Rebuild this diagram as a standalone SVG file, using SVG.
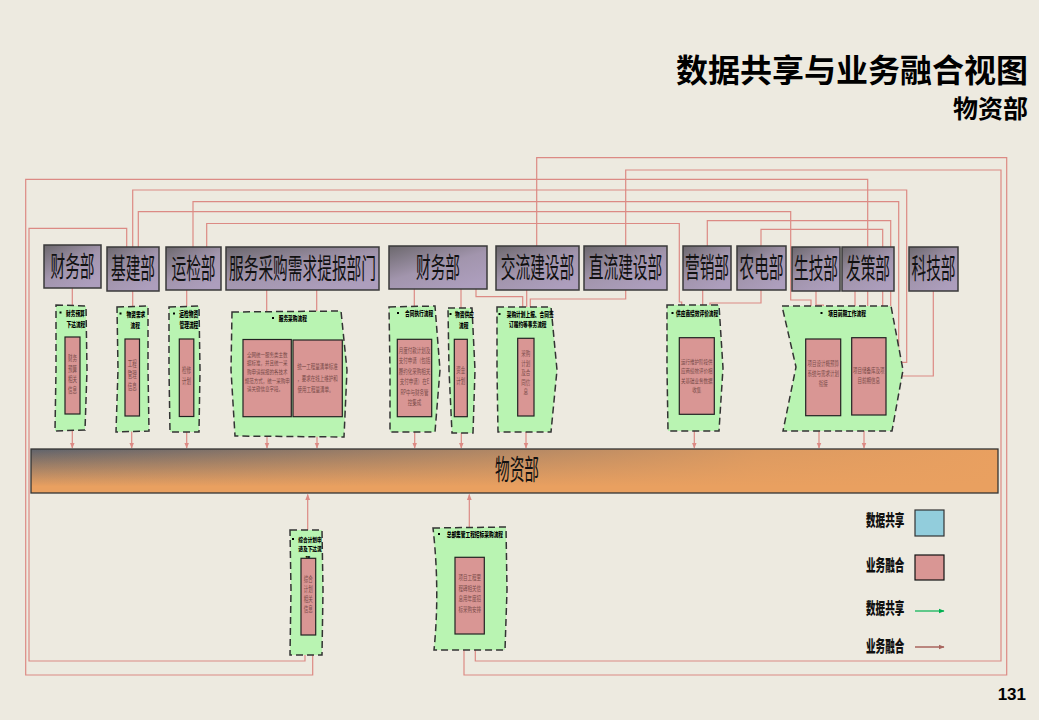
<svg xmlns="http://www.w3.org/2000/svg" width="1039" height="720" viewBox="0 0 1039 720">
<style>
.bg{fill:#EDEAE0}
.node rect{fill:url(#ng);stroke:#3a3a3a;stroke-width:1.5}
.nt{font-family:"Noto Sans CJK SC","Noto Sans",sans-serif;font-size:14.7px;fill:#111;text-anchor:middle}
.grn{fill:#B9F4B2;stroke:#333;stroke-width:1.5;stroke-dasharray:7,4}
.in{fill:#D99694;stroke:#222;stroke-width:1.2}
.hd{font-family:"Noto Sans CJK SC",sans-serif;font-size:4.7px;font-weight:900;fill:#000}
.it{font-family:"Noto Sans CJK SC",sans-serif;font-size:4.5px;fill:#7a4c4a;text-anchor:middle}
.bl{fill:#000}
.ln{fill:none;stroke:#DC8A84;stroke-width:1.2}
.ttl{font-family:"Noto Sans CJK SC",sans-serif;font-weight:bold;fill:#000;text-anchor:end}
.lg{font-family:"Noto Sans CJK SC",sans-serif;font-weight:900;font-size:9.6px;fill:#111}
</style>
<defs>
<linearGradient id="ng" x1="0" y1="0" x2="0.7" y2="1">
<stop offset="0" stop-color="#6c686d"/><stop offset="0.55" stop-color="#a295ad"/><stop offset="1" stop-color="#ad9ebd"/>
</linearGradient>
<linearGradient id="bv" x1="0" y1="0" x2="0" y2="1">
<stop offset="0" stop-color="#5f636c"/><stop offset="0.85" stop-color="#e9a060"/><stop offset="1" stop-color="#e9a060"/>
</linearGradient>
<linearGradient id="bh" x1="0" y1="0" x2="1" y2="0">
<stop offset="0" stop-color="#e9a060" stop-opacity="0"/><stop offset="0.75" stop-color="#e9a060" stop-opacity="0.9"/><stop offset="1" stop-color="#e9a060" stop-opacity="1"/>
</linearGradient>
<marker id="ah" viewBox="0 0 10 10" refX="9" refY="5" markerUnits="userSpaceOnUse" markerWidth="6" markerHeight="6" orient="auto"><path d="M0,1 L10,5 L0,9 z" fill="#DC8A84"/></marker>
<marker id="ag" viewBox="0 0 10 10" refX="9" refY="5" markerUnits="userSpaceOnUse" markerWidth="6" markerHeight="6" orient="auto"><path d="M0,1 L10,5 L0,9 z" fill="#00B050"/></marker>
<marker id="ab" viewBox="0 0 10 10" refX="9" refY="5" markerUnits="userSpaceOnUse" markerWidth="6" markerHeight="6" orient="auto"><path d="M0,1 L10,5 L0,9 z" fill="#A8655E"/></marker>
</defs>
<rect class="bg" x="0" y="0" width="1039" height="720"/>

<text class="ttl" x="1028" y="82" font-size="32">数据共享与业务融合视图</text>
<text class="ttl" x="1028" y="118" font-size="25">物资部</text>
<text x="1026" y="700" font-family="Liberation Sans,Arial,sans-serif" font-weight="bold" font-size="17" text-anchor="end">131</text>

<g id="connectors">
<path class="ln" d="M536.7,246 V157.7 H1006.7 V675 H464 V635" marker-end="url(#ah)"/>
<path class="ln" d="M625.7,246 V170 H1001 V661 H475.3 V635" marker-end="url(#ah)"/>
<path class="ln" d="M867.7,247 V179.3 H25.7 V675 H312.7 V636" marker-end="url(#ah)"/>
<path class="ln" d="M126.7,247 V228.3 H29 V661 H305 V636" marker-end="url(#ah)"/>
<path class="ln" d="M132.7,247 V190 H906.7 V362.3 H887" marker-end="url(#ah)"/>
<path class="ln" d="M193,247 V201.7 H898.7 V351.7 H887" marker-end="url(#ah)"/>
<path class="ln" d="M138.3,247 V211.7 H790.7 V300 H811 V338" marker-end="url(#ah)"/>
<path class="ln" d="M206.7,247 V223.5 H679.3 V302 H681.7 V337" marker-end="url(#ah)"/>
<path class="ln" d="M707.3,246 V220.7 H890.7 V310 H878.3 V337" marker-end="url(#ah)"/>
<path class="ln" d="M761,246 V229.3 H882.7 V315 H872.3 V337" marker-end="url(#ah)"/>
<path class="ln" d="M72.3,288 V336" marker-end="url(#ah)"/>
<path class="ln" d="M132.7,291 V338" marker-end="url(#ah)"/>
<path class="ln" d="M186.7,290 V338" marker-end="url(#ah)"/>
<path class="ln" d="M266.7,290 V339" marker-end="url(#ah)"/>
<path class="ln" d="M316.7,290 V339" marker-end="url(#ah)"/>
<path class="ln" d="M414.3,289 V338" marker-end="url(#ah)"/>
<path class="ln" d="M461,289 V338" marker-end="url(#ah)"/>
<path class="ln" d="M476,289 V296.7 H522.7 V337" marker-end="url(#ah)"/>
<path class="ln" d="M526.7,290 V337" marker-end="url(#ah)"/>
<path class="ln" d="M625.7,289 V299 H530.3 V337" marker-end="url(#ah)"/>
<path class="ln" d="M702.7,290 V337" marker-end="url(#ah)"/>
<path class="ln" d="M761,290 V303 H710 V337" marker-end="url(#ah)"/>
<path class="ln" d="M816,291 V305 H823.3 V338" marker-end="url(#ah)"/>
<path class="ln" d="M855,291 V337" marker-end="url(#ah)"/>
<path class="ln" d="M867.7,291 V337" marker-end="url(#ah)"/>
<path class="ln" d="M933.3,291 V376 H887" marker-end="url(#ah)"/>
<path class="ln" d="M72.3,414 V448" marker-end="url(#ah)"/>
<path class="ln" d="M131.7,416 V448" marker-end="url(#ah)"/>
<path class="ln" d="M186.7,417 V448" marker-end="url(#ah)"/>
<path class="ln" d="M267,417 V448" marker-end="url(#ah)"/>
<path class="ln" d="M317,417 V448" marker-end="url(#ah)"/>
<path class="ln" d="M414.7,417 V448" marker-end="url(#ah)"/>
<path class="ln" d="M461.3,417 V448" marker-end="url(#ah)"/>
<path class="ln" d="M526,416 V448" marker-end="url(#ah)"/>
<path class="ln" d="M694.3,414 V448" marker-end="url(#ah)"/>
<path class="ln" d="M819,416 V448" marker-end="url(#ah)"/>
<path class="ln" d="M864,415 V448" marker-end="url(#ah)"/>
<path class="ln" d="M307.7,558 V494.5" marker-end="url(#ah)"/>
<path class="ln" d="M469.3,557 V494.5" marker-end="url(#ah)"/>
</g>

<g id="n-caiwu1" class="node"><rect x="44" y="245" width="57" height="43"/><text class="nt" transform="translate(72.5,276.5) scale(1,1.95)">财务部</text></g>
<g id="n-jijian" class="node"><rect x="107" y="247" width="52" height="44"/><text class="nt" transform="translate(133,279) scale(1,1.95)">基建部</text></g>
<g id="n-yunjian" class="node"><rect x="166" y="247" width="55" height="43"/><text class="nt" transform="translate(193.5,278.5) scale(1,1.95)">运检部</text></g>
<g id="n-fuwu" class="node"><rect x="226" y="247" width="153" height="43"/><text class="nt" transform="translate(302.5,278.5) scale(1,1.95)">服务采购需求提报部门</text></g>
<g id="n-caiwu2" class="node"><rect x="389" y="246" width="98" height="43"/><text class="nt" transform="translate(438,277.5) scale(1,1.95)">财务部</text></g>
<g id="n-jiaoliu" class="node"><rect x="496" y="246" width="83" height="44"/><text class="nt" transform="translate(537.5,278) scale(1,1.95)">交流建设部</text></g>
<g id="n-zhiliu" class="node"><rect x="584" y="246" width="83" height="44"/><text class="nt" transform="translate(625.5,278) scale(1,1.95)">直流建设部</text></g>
<g id="n-yingxiao" class="node"><rect x="683" y="246" width="48" height="44"/><text class="nt" transform="translate(707,278) scale(1,1.95)">营销部</text></g>
<g id="n-nongdian" class="node"><rect x="737" y="246" width="49" height="44"/><text class="nt" transform="translate(761.5,278) scale(1,1.95)">农电部</text></g>
<g id="n-shengji" class="node"><rect x="792" y="247" width="48" height="44"/><text class="nt" transform="translate(816,279) scale(1,1.95)">生技部</text></g>
<g id="n-face" class="node"><rect x="842" y="247" width="52" height="44"/><text class="nt" transform="translate(868,279) scale(1,1.95)">发策部</text></g>
<g id="n-keji" class="node"><rect x="909" y="247" width="49" height="44"/><text class="nt" transform="translate(933.5,279) scale(1,1.95)">科技部</text></g>

<g id="bar">
<rect x="31" y="449" width="967" height="44" fill="url(#bv)"/>
<rect x="31" y="449" width="967" height="44" fill="url(#bh)" stroke="#333" stroke-width="1.3"/>
<text class="nt" font-size="14.5" transform="translate(517,480) scale(1,1.93)">物资部</text>
</g>

<g id="p1">
<polygon class="grn" points="56,305 86,306 87,370 85,430 55,431 56,370"/>
<rect class="bl" x="59.5" y="311.5" width="2" height="2"/>
<text class="hd" transform="translate(66,316) scale(1,1.45)">财务预算</text>
<text class="hd" transform="translate(66.5,326.5) scale(1,1.45)">下达流程</text>
<rect class="in" x="65" y="337" width="15" height="77"/>
<text class="it" font-size="3.9" transform="translate(72.5,361) scale(1,1.8)">财务</text>
<text class="it" font-size="3.9" transform="translate(72.5,371.5) scale(1,1.8)">预算</text>
<text class="it" font-size="3.9" transform="translate(72.5,382) scale(1,1.8)">相关</text>
<text class="it" font-size="3.9" transform="translate(72.5,392.5) scale(1,1.8)">信息</text>
</g>

<g id="p2">
<polygon class="grn" points="117,307 148,306 148,370 149,431 116,432 118,370"/>
<rect class="bl" x="119.5" y="312.5" width="2" height="2"/>
<text class="hd" transform="translate(126.5,317) scale(1,1.45)">物资需求</text>
<text class="hd" transform="translate(130.5,327.5) scale(1,1.45)">流程</text>
<rect class="in" x="125" y="339" width="14.5" height="77"/>
<text class="it" font-size="3.9" transform="translate(132.3,366.5) scale(1,1.9)">工程</text>
<text class="it" font-size="3.9" transform="translate(132.3,378) scale(1,1.9)">管理</text>
<text class="it" font-size="3.9" transform="translate(132.3,390) scale(1,1.9)">信息</text>
</g>

<g id="p3">
<polygon class="grn" points="169,307 199,306 200,370 199,432 170,432 169,370"/>
<rect class="bl" x="173" y="312.5" width="2" height="2"/>
<text class="hd" font-size="4.3" transform="translate(179.3,317) scale(1,1.6)">运检物资</text>
<text class="hd" font-size="4.3" transform="translate(179.5,327.5) scale(1,1.6)">管理流程</text>
<rect class="in" x="179.3" y="339" width="14.5" height="77.5"/>
<text class="it" font-size="3.9" transform="translate(186.6,373) scale(1,1.85)">检修</text>
<text class="it" font-size="3.9" transform="translate(186.6,384) scale(1,1.85)">计划</text>
</g>

<g id="p4">
<polygon class="grn" points="232,312 341,311 347,370 344,437 235,436 231,370"/>
<rect class="bl" x="272" y="317" width="2" height="2"/>
<text class="hd" font-size="4.6" transform="translate(278.7,321) scale(1,1.5)">服务采购流程</text>
<rect class="in" x="243" y="339.5" width="48.3" height="77.2"/>
<rect class="in" x="293" y="340" width="49.3" height="76.7"/>
<text class="it" transform="translate(267.2,356.5) scale(1,1.3)">全网统一服务类主数</text>
<text class="it" transform="translate(267.2,365.2) scale(1,1.3)">据标准，并且统一采</text>
<text class="it" transform="translate(267.2,373.9) scale(1,1.3)">购申请提报的各技术</text>
<text class="it" transform="translate(267.2,382.6) scale(1,1.3)">规范方式，统一采购申</text>
<text class="it" transform="translate(265,391.3) scale(1,1.3)">请关键信息字段。</text>
<text class="it" transform="translate(317.5,369) scale(1,1.6)">统一工程量清单标准</text>
<text class="it" transform="translate(317.5,380.5) scale(1,1.6)">，要求在线上维护和</text>
<text class="it" transform="translate(315.5,392) scale(1,1.6)">使用工程量清单。</text>
</g>

<g id="p5">
<polygon class="grn" points="389,307 435,306 440,370 435,432 390,432 390,370"/>
<rect class="bl" x="397" y="312" width="2" height="2"/>
<text class="hd" font-size="4.5" transform="translate(405,316) scale(1,1.55)">合同执行流程</text>
<rect class="in" x="397.3" y="339.3" width="34.4" height="77.4"/>
<text class="it" font-size="4.4" transform="translate(414.5,352.5) scale(1,1.55)">月度付款计划及</text>
<text class="it" font-size="4.4" transform="translate(414.5,363) scale(1,1.55)">支付申请（包括</text>
<text class="it" font-size="4.4" transform="translate(414.5,373.5) scale(1,1.55)">履约化采购相关</text>
<text class="it" font-size="4.4" transform="translate(414.5,384) scale(1,1.55)">支付申请）在E</text>
<text class="it" font-size="4.4" transform="translate(414.5,394.5) scale(1,1.55)">RP中与财务管</text>
<text class="it" font-size="4.4" transform="translate(414.5,405) scale(1,1.55)">控集成</text>
</g>

<g id="p6">
<polygon class="grn" points="448,308 472,308 475,370 473,433 452,433 449,370"/>
<rect class="bl" x="449.5" y="313" width="2" height="2"/>
<text class="hd" font-size="4.5" transform="translate(455,317) scale(1,1.55)">物资供应</text>
<text class="hd" font-size="4.5" transform="translate(459,328) scale(1,1.55)">流程</text>
<rect class="in" x="454.3" y="339.3" width="13" height="77.4"/>
<text class="it" font-size="4" transform="translate(460.8,373) scale(1,1.8)">资金</text>
<text class="it" font-size="4" transform="translate(460.8,384) scale(1,1.8)">计划</text>
</g>

<g id="p7">
<polygon class="grn" points="497,307 551,307 557,370 551,432 498,432 497,370"/>
<rect class="bl" x="498.5" y="313" width="2" height="2"/>
<text class="hd" font-size="4.5" transform="translate(506.7,316.5) scale(1,1.45)">采购计划上报、合同签</text>
<text class="hd" font-size="4.6" transform="translate(509,327) scale(1,1.45)">订履约等事务流程</text>
<rect class="in" x="517.7" y="338.3" width="16.3" height="77.7"/>
<text class="it" transform="translate(525.8,356) scale(1,1.4)">采购</text>
<text class="it" transform="translate(525.8,365.5) scale(1,1.4)">计划</text>
<text class="it" transform="translate(525.8,375) scale(1,1.4)">及合</text>
<text class="it" transform="translate(525.8,384.5) scale(1,1.4)">同信</text>
<text class="it" transform="translate(525.8,394) scale(1,1.4)">息</text>
</g>

<g id="p8">
<polygon class="grn" points="667,305 719,305 723,368 719,431 668,431 667,368"/>
<rect class="bl" x="671.5" y="312" width="2" height="2"/>
<text class="hd" font-size="4.9" transform="translate(676,316) scale(1,1.45)">供应商绩效评价流程</text>
<rect class="in" x="679.3" y="337.7" width="35" height="76.6"/>
<text class="it" font-size="4.6" transform="translate(696.8,364) scale(1,1.35)">运行维护阶段供</text>
<text class="it" font-size="4.6" transform="translate(696.8,373.3) scale(1,1.35)">应商绩效评价相</text>
<text class="it" font-size="4.6" transform="translate(696.8,382.6) scale(1,1.35)">关基础业务数据</text>
<text class="it" font-size="4.6" transform="translate(696.8,392) scale(1,1.35)">收集</text>
</g>

<g id="p9">
<polygon class="grn" points="782,306 891,306 903,370 892,431 783,431 796,367"/>
<rect class="bl" x="820.5" y="312" width="2" height="2"/>
<text class="hd" font-size="4.55" transform="translate(828.3,316) scale(1,1.5)">项目前期工作流程</text>
<rect class="in" x="805.7" y="339" width="35" height="76.7"/>
<rect class="in" x="851.7" y="337.7" width="34.3" height="77.3"/>
<text class="it" font-size="4.4" transform="translate(823.2,366) scale(1,1.4)">项目设计概预算</text>
<text class="it" font-size="4.4" transform="translate(823.2,375.5) scale(1,1.4)">系统与需求计划</text>
<text class="it" font-size="4.4" transform="translate(823.2,386) scale(1,1.4)">衔接</text>
<text class="it" font-size="4.4" transform="translate(868.8,372.5) scale(1,1.5)">项目储备库及项</text>
<text class="it" font-size="4.4" transform="translate(868.8,382.5) scale(1,1.5)">目前期信息</text>
</g>

<g id="p10">
<polygon class="grn" points="290,530 322,530 323,590 322,655 290,655 291,590"/>
<rect class="bl" x="292" y="538" width="2" height="2"/>
<text class="hd" transform="translate(298.3,542) scale(1,1.3)">综合计划申</text>
<text class="hd" transform="translate(298.3,551.3) scale(1,1.3)">请及下达流</text>
<text class="hd" transform="translate(305.5,560.6) scale(1,1.3)">程</text>
<rect class="in" x="301" y="558.3" width="14.7" height="76.7"/>
<text class="it" font-size="4" transform="translate(308.3,582) scale(1,1.7)">综合</text>
<text class="it" font-size="4" transform="translate(308.3,592) scale(1,1.7)">计划</text>
<text class="it" font-size="4" transform="translate(308.3,602) scale(1,1.7)">相关</text>
<text class="it" font-size="4" transform="translate(308.3,612) scale(1,1.7)">信息</text>
</g>

<g id="p11">
<path class="grn" d="M433,528 L506,527 L507,590 L505,650 L434,650 Q440,590 433,528 Z"/>
<rect class="bl" x="438" y="533" width="2" height="2"/>
<text class="hd" transform="translate(446.7,537) scale(1,1.5)">总部集管工程招标采购流程</text>
<rect class="in" x="455" y="557.3" width="29.3" height="76.7"/>
<text class="it" font-size="4.8" transform="translate(469.7,580) scale(1,1.42)">项目工程里</text>
<text class="it" font-size="4.8" transform="translate(469.7,590.5) scale(1,1.42)">程碑相关信</text>
<text class="it" font-size="4.8" transform="translate(469.7,601) scale(1,1.42)">息用年度招</text>
<text class="it" font-size="4.8" transform="translate(469.7,611.5) scale(1,1.42)">标采购安排</text>
</g>

<g id="legend">
<text class="lg" transform="translate(866,526.3) scale(1,1.7)">数据共享</text>
<rect x="915" y="510" width="29" height="26" fill="#92CDDC" stroke="#333" stroke-width="1.2"/>
<text class="lg" transform="translate(866,571.3) scale(1,1.7)">业务融合</text>
<rect x="915" y="555" width="29" height="25" fill="#D99694" stroke="#111" stroke-width="1.2"/>
<text class="lg" transform="translate(866,614) scale(1,1.7)">数据共享</text>
<line x1="915" y1="611" x2="944" y2="611" stroke="#00B050" stroke-width="1.2" marker-end="url(#ag)"/>
<text class="lg" transform="translate(866,651.5) scale(1,1.7)">业务融合</text>
<line x1="915" y1="647" x2="944" y2="647" stroke="#A8655E" stroke-width="1.5" marker-end="url(#ab)"/>
</g>
</svg>
